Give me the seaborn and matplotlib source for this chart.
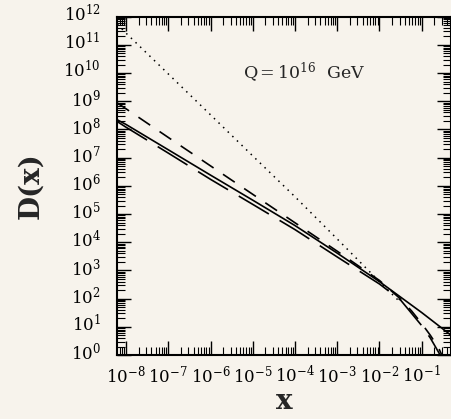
import numpy as np
import pandas as pd
import seaborn as sns
import matplotlib
matplotlib.use("Agg")
import matplotlib.pyplot as plt
from matplotlib.ticker import LogLocator, LogFormatterMathtext, NullFormatter
from matplotlib.transforms import ScaledTranslation

# ---- data (x, D(x)) ----
x_solid = [6.2e-9, 1e-8, 1e-7, 1e-6, 1e-5, 1e-4, 1e-3, 1e-2, 1e-1, 0.48]
d_solid = [2.2e8, 1.5e8, 1.9e7, 2.4e6, 3.1e5, 3.9e4, 4.1e3, 4.0e2, 32, 5.2]

x_short = [6.2e-9, 1e-8, 1e-7, 1e-6, 1e-5, 1e-4, 1e-3, 1e-2, 3.2e-2, 5.8e-2, 0.1, 0.16, 0.25, 0.32]
d_short = [8.7e8, 5.4e8, 5.2e7, 5.1e6, 5.0e5, 4.9e4, 4.8e3, 4.4e2, 95, 36, 13, 5.0, 1.8, 0.8]

x_long = [6.2e-9, 1e-8, 1e-7, 1e-6, 1e-5, 1e-4, 1e-3, 1e-2, 3.2e-2, 0.1, 0.16, 0.25, 0.32]
d_long = [1.9e8, 1.2e8, 1.45e7, 1.7e6, 2.2e5, 2.8e4, 3.0e3, 3.3e2, 87, 11, 4.0, 1.26, 0.63]

x_dot = [6.2e-9, 1e-8, 1e-7, 1e-6, 1e-5, 1e-4, 1e-3, 1e-2, 3.2e-2]
d_dot = [5.4e11, 2.6e11, 9.3e9, 3.3e8, 1.15e7, 4.1e5, 1.3e4, 4.0e2, 71]

# major tick positions (decades)
x_ticks = [1e-8, 1e-7, 1e-6, 1e-5, 1e-4, 1e-3, 1e-2, 1e-1]
y_ticks = [1e0, 1e1, 1e2, 1e3, 1e4, 1e5, 1e6, 1e7, 1e8, 1e9, 1e10, 1e11, 1e12]

bg = '#f7f3ec'

sns.set_style("ticks")
plt.rcParams['font.family'] = ['DejaVu Serif']
plt.rcParams['mathtext.fontset'] = 'dejavuserif'

fig = plt.figure(figsize=(4.52, 4.19), dpi=100, facecolor=bg)
ax = fig.add_axes([0.2595, 0.1527, 0.7372, 0.8075])
ax.set_facecolor(bg)

sns.lineplot(x=x_dot, y=d_dot, ax=ax, color='black', lw=1.1, linestyle=(0, (1, 3.2)))
sns.lineplot(x=x_short, y=d_short, ax=ax, color='black', lw=1.2, linestyle=(0, (8.5, 6.8)))
sns.lineplot(x=x_solid, y=d_solid, ax=ax, color='black', lw=1.2)
sns.lineplot(x=x_long, y=d_long, ax=ax, color='black', lw=1.2, linestyle=(0, (21, 7.5)))

ax.set_xscale('log')
ax.set_yscale('log')
ax.set_xticks(x_ticks)
ax.set_yticks(y_ticks)
ax.set_xlim(6.2e-9, 0.48)
ax.set_ylim(1, 1e12)

for axis in (ax.xaxis, ax.yaxis):
    axis.set_minor_locator(LogLocator(base=10, subs=np.arange(2, 10), numticks=100))
    axis.set_major_formatter(LogFormatterMathtext())
    axis.set_minor_formatter(NullFormatter())

ax.tick_params(which='both', direction='in', top=True, right=True, colors='black')
ax.tick_params(which='major', length=10, width=1.0, labelsize=12)
ax.tick_params(which='minor', length=5.8, width=0.8)
ax.tick_params(axis='x', which='major', pad=7)
ax.tick_params(axis='y', which='major', pad=12)
for sp in ax.spines.values():
    sp.set_linewidth(1.5)
    sp.set_color('black')

# y tick labels sit a little high in the reference
shift = ScaledTranslation(0, 3 / 72, fig.dpi_scale_trans)
for lab in ax.get_yticklabels():
    lab.set_transform(lab.get_transform() + shift)

ax.set_xlabel('x', fontsize=20, fontweight='bold', labelpad=1)
ax.set_ylabel('D(x)', fontsize=20, fontweight='bold', labelpad=14)

ax.text(0.56, 0.837, r'Q$\,$=$\,$10$^{16}$  GeV', transform=ax.transAxes,
        ha='center', va='center', fontsize=12.5)

fig.savefig('out.png', dpi=100, facecolor=bg)
